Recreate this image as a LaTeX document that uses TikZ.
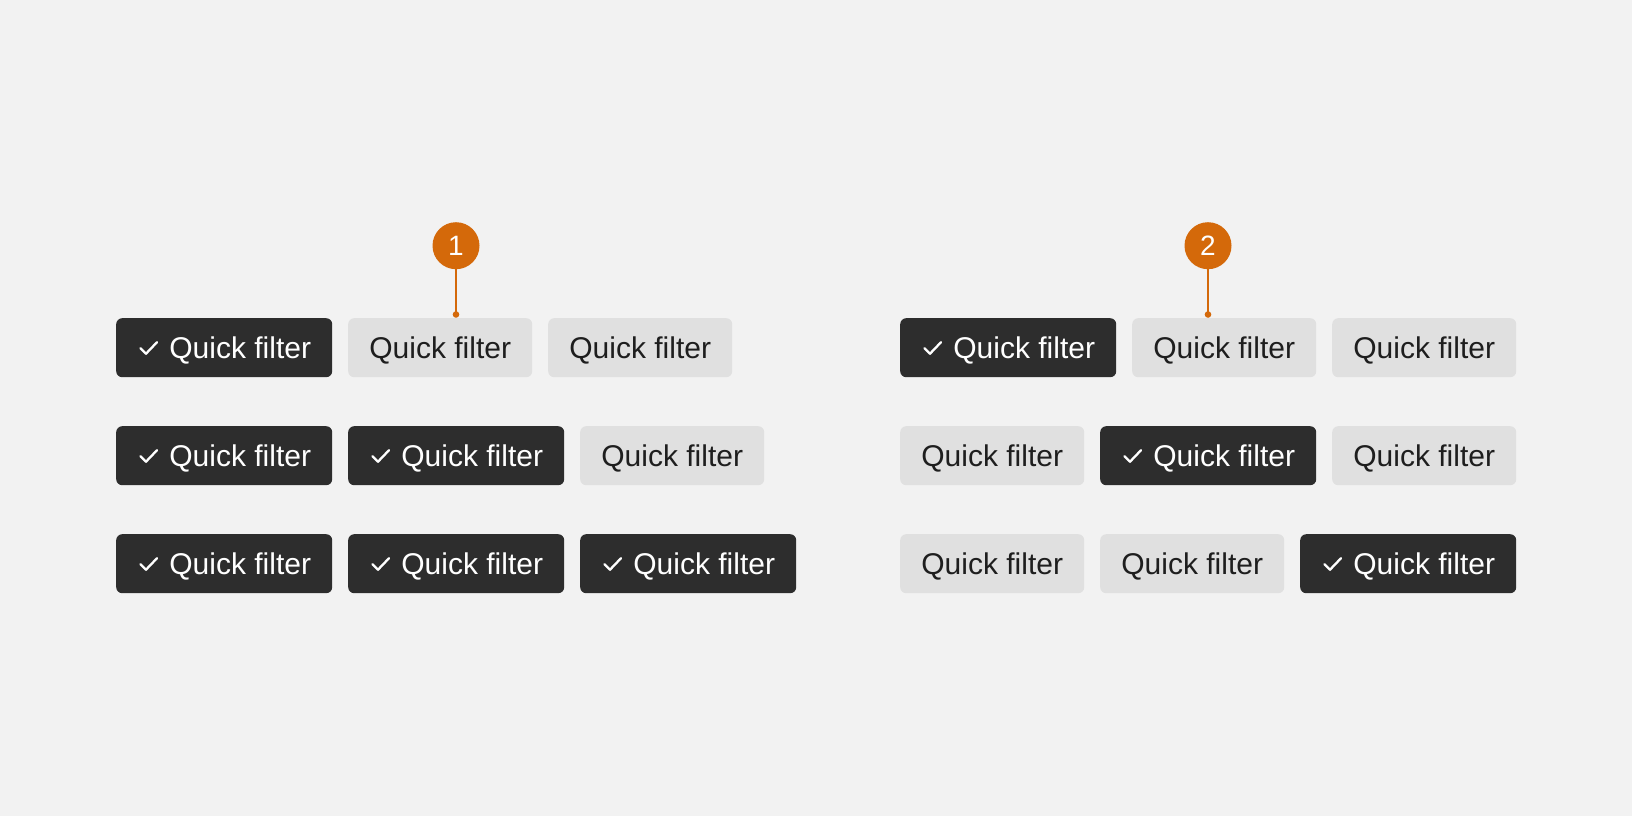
\documentclass[tikz,border=0pt]{standalone}
\usepackage{fontspec}
\setmainfont{Liberation Sans}
\definecolor{bg}{HTML}{F2F2F2}
\definecolor{darkbtn}{HTML}{2D2D2D}
\definecolor{lightbtn}{HTML}{E0E0E0}
\definecolor{txtdark}{HTML}{1E1E1E}
\definecolor{accent}{HTML}{D4690A}
\tikzset{
  onbox/.style={rectangle, fill=darkbtn, rounded corners=6pt, minimum width=216pt, minimum height=59pt, inner sep=0pt},
  offbox/.style={rectangle, fill=lightbtn, rounded corners=6pt, minimum width=184pt, minimum height=59pt, inner sep=0pt},
  ontext/.style={text=white, inner sep=0pt, font=\fontsize{30}{36}\selectfont},
  offtext/.style={text=txtdark, inner sep=0pt, font=\fontsize{30}{36}\selectfont},
  tickmark/.style={draw=white, line width=2.3pt, line cap=round, line join=round},
  badge/.style={circle, fill=accent, minimum size=47pt, inner sep=0pt, text=white, font=\fontsize{28}{32}\selectfont},
  leader/.style={draw=accent, line width=2pt},
}
\newcommand\qfon[3]{%
  \node[onbox, anchor=north west] (#3) at (#1,#2) {};
  \node[ontext, anchor=base] (#3t) at ([xshift=16pt, yshift=-10.6pt]#3.center) {Quick filter};
  \draw[tickmark] ([xshift=24.5pt, yshift=-0.5pt]#3.west) -- ++(5.5,5.5) -- ++(11,-11.5);
}
\newcommand\qfoff[3]{%
  \node[offbox, anchor=north west] (#3) at (#1,#2) {};
  \node[offtext, anchor=base] (#3t) at ([yshift=-10.6pt]#3.center) {Quick filter};
}
\begin{document}
\begin{tikzpicture}[x=1pt, y=-1pt]
  \fill[bg] (0,0) rectangle (1632,816);
  \useasboundingbox (0,0) rectangle (1632,816);
  % left group
  \qfon{116}{318}{a11}
  \qfoff{348}{318}{a12}
  \qfoff{548}{318}{a13}
  \qfon{116}{426}{a21}
  \qfon{348}{426}{a22}
  \qfoff{580}{426}{a23}
  \qfon{116}{534}{a31}
  \qfon{348}{534}{a32}
  \qfon{580}{534}{a33}
  % right group
  \qfon{900}{318}{b11}
  \qfoff{1132}{318}{b12}
  \qfoff{1332}{318}{b13}
  \qfoff{900}{426}{b21}
  \qfon{1100}{426}{b22}
  \qfoff{1332}{426}{b23}
  \qfoff{900}{534}{b31}
  \qfoff{1100}{534}{b32}
  \qfon{1300}{534}{b33}
  % badges
  \node[badge] (c1) at (456,245.7) {1};
  \node[badge] (c2) at (1208,245.7) {2};
  \coordinate (d1) at (456,314.5);
  \coordinate (d2) at (1208,314.5);
  \draw[leader] (c1.south) -- (d1);
  \draw[leader] (c2.south) -- (d2);
  \fill[accent] (d1) circle (3.3pt);
  \fill[accent] (d2) circle (3.3pt);
\end{tikzpicture}
\end{document}
